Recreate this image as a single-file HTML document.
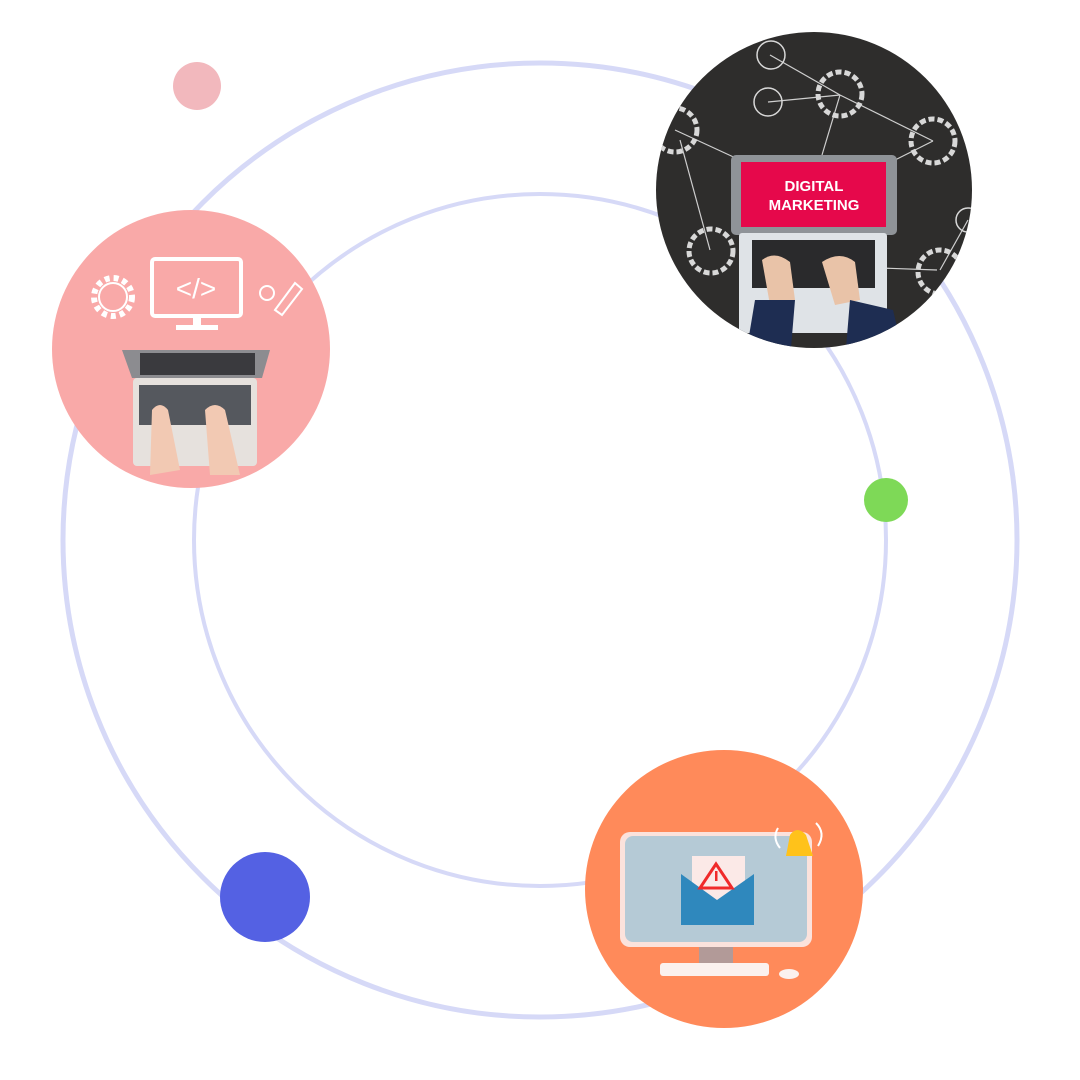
<!DOCTYPE html>
<html><head><meta charset="utf-8"><style>
html,body{margin:0;padding:0;background:#fff;}
svg{display:block;}
</style></head><body>
<svg width="1080" height="1080" viewBox="0 0 1080 1080" xmlns="http://www.w3.org/2000/svg">
<defs>
<clipPath id="cp"><circle cx="191" cy="349" r="139"/></clipPath>
<clipPath id="cd"><circle cx="814" cy="190" r="158"/></clipPath>
<clipPath id="co"><circle cx="724" cy="889" r="139"/></clipPath>
</defs>
<circle cx="540" cy="540" r="477" fill="none" stroke="#d6d9f7" stroke-width="5"/>
<circle cx="540" cy="540" r="346" fill="none" stroke="#d6d9f7" stroke-width="4"/>
<circle cx="197" cy="86" r="24" fill="#f2b8bd"/>
<circle cx="886" cy="500" r="22" fill="#7ed957"/>
<circle cx="265" cy="897" r="45" fill="#5461e3"/>

<!-- pink -->
<g clip-path="url(#cp)">
<rect x="50" y="208" width="285" height="285" fill="#f9a9a8"/>
<rect x="152" y="259" width="89" height="57" rx="3" fill="none" stroke="#fff" stroke-width="4"/>
<rect x="176" y="325" width="42" height="5" fill="#fff"/>
<rect x="193" y="316" width="8" height="10" fill="#fff"/>
<text x="196" y="298" font-family="Liberation Sans, sans-serif" font-size="28" fill="#fff" text-anchor="middle">&lt;/&gt;</text>
<circle cx="113" cy="297" r="19" fill="none" stroke="#fff" stroke-width="6" stroke-dasharray="5 4"/>
<circle cx="113" cy="297" r="14" fill="none" stroke="#fff" stroke-width="2"/>
<circle cx="267" cy="293" r="7" fill="none" stroke="#fff" stroke-width="2"/>
<path d="M275 310 L295 283 L302 289 L282 315 Z" fill="none" stroke="#fff" stroke-width="2"/>
<path d="M122 350 L270 350 L262 378 L132 378 Z" fill="#8c8c90"/>
<rect x="140" y="353" width="115" height="22" fill="#3a3a3e"/>
<rect x="133" y="378" width="124" height="88" rx="4" fill="#e6e1dd"/>
<rect x="139" y="385" width="112" height="40" fill="#55585e"/>
<path d="M152 410 Q160 400 168 410 L180 470 L150 475 Z" fill="#f2c9b3"/>
<path d="M205 410 Q215 400 225 410 L240 475 L210 475 Z" fill="#f2c9b3"/>
</g>

<!-- dark -->
<g clip-path="url(#cd)">
<rect x="650" y="30" width="330" height="330" fill="#2e2d2c"/>
<g stroke="#cfcfcf" stroke-width="1.2" fill="none">
<line x1="770" y1="55" x2="840" y2="95"/><line x1="768" y1="102" x2="840" y2="95"/>
<line x1="840" y1="95" x2="933" y2="141"/><line x1="840" y1="95" x2="822" y2="155"/>
<line x1="675" y1="130" x2="740" y2="160"/><line x1="680" y1="140" x2="710" y2="250"/>
<line x1="933" y1="141" x2="895" y2="160"/><line x1="880" y1="268" x2="937" y2="270"/>
<line x1="968" y1="220" x2="940" y2="270"/>
</g>
<g fill="none" stroke="#d8d8d8" stroke-width="5" stroke-dasharray="6 3">
<circle cx="840" cy="94" r="22"/><circle cx="933" cy="141" r="22"/><circle cx="675" cy="130" r="22"/><circle cx="711" cy="251" r="22"/><circle cx="940" cy="272" r="22"/>
</g>
<g fill="none" stroke="#d8d8d8" stroke-width="1.5">
<circle cx="771" cy="55" r="14"/><circle cx="768" cy="102" r="14"/><circle cx="968" cy="220" r="12"/>
</g>
<rect x="731" y="155" width="166" height="80" rx="5" fill="#8f9398"/>
<rect x="741" y="162" width="145" height="65" fill="#e6084b"/>
<text x="814" y="191" font-family="Liberation Sans, sans-serif" font-weight="bold" font-size="15" fill="#fff" text-anchor="middle">DIGITAL</text>
<text x="814" y="210" font-family="Liberation Sans, sans-serif" font-weight="bold" font-size="15" fill="#fff" text-anchor="middle">MARKETING</text>
<rect x="739" y="233" width="148" height="100" rx="3" fill="#dfe3e7"/>
<rect x="752" y="240" width="123" height="48" fill="#2a2a2c"/>
<path d="M762 260 Q775 250 790 262 L795 300 L770 305 Z" fill="#e9c3a8"/>
<path d="M822 262 Q840 250 855 262 L860 300 L835 305 Z" fill="#e9c3a8"/>
<path d="M755 300 L795 300 L790 360 L745 360 Z" fill="#1e2d52"/>
<path d="M850 300 L893 310 L905 360 L845 360 Z" fill="#1e2d52"/>
</g>

<!-- orange -->
<g clip-path="url(#co)">
<rect x="585" y="750" width="280" height="280" fill="#ff8a5a"/>
<rect x="699" y="945" width="34" height="20" fill="#b29a98"/>
<rect x="620" y="832" width="192" height="115" rx="10" fill="#fbe2dc"/>
<rect x="625" y="836" width="182" height="106" rx="8" fill="#b5cad6"/>
<rect x="692" y="856" width="53" height="50" fill="#fbe9e7"/>
<path d="M681 874 L681 925 L754 925 L754 874 L717 900 Z" fill="#2f88bd"/>
<path d="M716 864 L732 888 L700 888 Z" fill="none" stroke="#f02a2a" stroke-width="3"/>
<rect x="715" y="871" width="2.5" height="10" fill="#f02a2a"/>
<path d="M790 835 Q797 825 806 835 L813 856 L786 856 Z" fill="#ffc21a"/>
<path d="M778 828 Q772 838 780 848 M816 823 Q826 833 818 846" stroke="#fff" stroke-width="2" fill="none"/>
<rect x="660" y="963" width="109" height="13" rx="3" fill="#fbf1ee"/>
<ellipse cx="789" cy="974" rx="10" ry="5" fill="#fbf1ee"/>
</g>
</svg>
</body></html>
